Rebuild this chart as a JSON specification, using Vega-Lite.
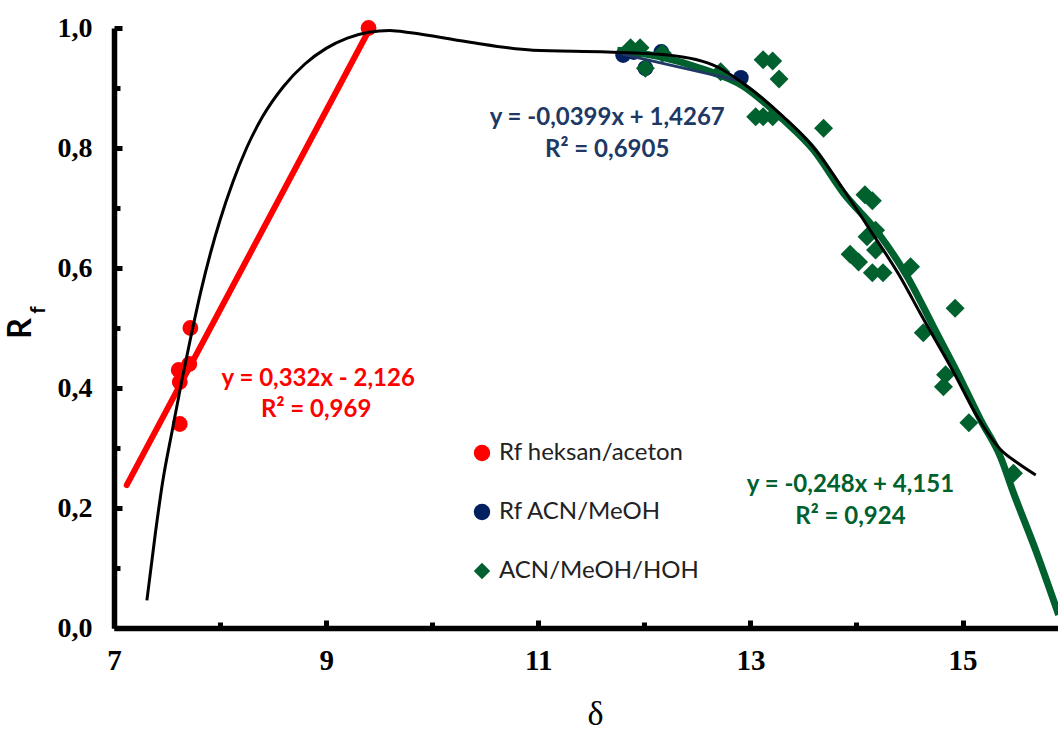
{
  "$schema": "https://vega.github.io/schema/vega-lite/v6.json",
  "width": 944,
  "height": 600,
  "autosize": {"type": "none"},
  "padding": {"left": 114, "top": 28, "right": 0, "bottom": 103},
  "background": "white",
  "config": {"view": {"stroke": null}, "font": "Lato"},
  "datasets": {
    "points": [
      {"series": "Rf heksan/aceton", "delta": 7.72, "Rf": 0.50},
      {"series": "Rf heksan/aceton", "delta": 7.61, "Rf": 0.43},
      {"series": "Rf heksan/aceton", "delta": 7.71, "Rf": 0.44},
      {"series": "Rf heksan/aceton", "delta": 7.62, "Rf": 0.41},
      {"series": "Rf heksan/aceton", "delta": 7.62, "Rf": 0.34},
      {"series": "Rf heksan/aceton", "delta": 9.40, "Rf": 1.00},
      {"series": "Rf ACN/MeOH", "delta": 11.80, "Rf": 0.955},
      {"series": "Rf ACN/MeOH", "delta": 11.90, "Rf": 0.96},
      {"series": "Rf ACN/MeOH", "delta": 12.01, "Rf": 0.933},
      {"series": "Rf ACN/MeOH", "delta": 12.16, "Rf": 0.96},
      {"series": "Rf ACN/MeOH", "delta": 12.91, "Rf": 0.917},
      {"series": "ACN/MeOH/HOH", "delta": 11.87, "Rf": 0.967},
      {"series": "ACN/MeOH/HOH", "delta": 11.96, "Rf": 0.967},
      {"series": "ACN/MeOH/HOH", "delta": 12.17, "Rf": 0.958},
      {"series": "ACN/MeOH/HOH", "delta": 12.01, "Rf": 0.933},
      {"series": "ACN/MeOH/HOH", "delta": 12.72, "Rf": 0.927},
      {"series": "ACN/MeOH/HOH", "delta": 13.12, "Rf": 0.947},
      {"series": "ACN/MeOH/HOH", "delta": 13.21, "Rf": 0.945},
      {"series": "ACN/MeOH/HOH", "delta": 13.27, "Rf": 0.915},
      {"series": "ACN/MeOH/HOH", "delta": 13.05, "Rf": 0.852},
      {"series": "ACN/MeOH/HOH", "delta": 13.12, "Rf": 0.852},
      {"series": "ACN/MeOH/HOH", "delta": 13.21, "Rf": 0.852},
      {"series": "ACN/MeOH/HOH", "delta": 13.69, "Rf": 0.833},
      {"series": "ACN/MeOH/HOH", "delta": 14.08, "Rf": 0.722},
      {"series": "ACN/MeOH/HOH", "delta": 14.15, "Rf": 0.712},
      {"series": "ACN/MeOH/HOH", "delta": 14.18, "Rf": 0.663},
      {"series": "ACN/MeOH/HOH", "delta": 14.10, "Rf": 0.652},
      {"series": "ACN/MeOH/HOH", "delta": 14.18, "Rf": 0.63},
      {"series": "ACN/MeOH/HOH", "delta": 13.94, "Rf": 0.623},
      {"series": "ACN/MeOH/HOH", "delta": 14.02, "Rf": 0.61},
      {"series": "ACN/MeOH/HOH", "delta": 14.15, "Rf": 0.592},
      {"series": "ACN/MeOH/HOH", "delta": 14.25, "Rf": 0.592},
      {"series": "ACN/MeOH/HOH", "delta": 14.51, "Rf": 0.602},
      {"series": "ACN/MeOH/HOH", "delta": 14.93, "Rf": 0.533},
      {"series": "ACN/MeOH/HOH", "delta": 14.63, "Rf": 0.492},
      {"series": "ACN/MeOH/HOH", "delta": 14.84, "Rf": 0.422},
      {"series": "ACN/MeOH/HOH", "delta": 14.82, "Rf": 0.402},
      {"series": "ACN/MeOH/HOH", "delta": 15.06, "Rf": 0.342},
      {"series": "ACN/MeOH/HOH", "delta": 15.48, "Rf": 0.258}
    ],
    "lines": [
      {"line": "red", "delta": 7.12, "Rf": 0.238},
      {"line": "red", "delta": 9.40, "Rf": 0.995},
      {"line": "blue", "delta": 11.80, "Rf": 0.956},
      {"line": "blue", "delta": 12.92, "Rf": 0.911},
      {"line": "green", "delta": 11.745, "Rf": 0.963},
      {"line": "green", "delta": 12.151, "Rf": 0.952},
      {"line": "green", "delta": 12.528, "Rf": 0.933},
      {"line": "green", "delta": 12.934, "Rf": 0.903},
      {"line": "green", "delta": 13.311, "Rf": 0.847},
      {"line": "green", "delta": 13.594, "Rf": 0.797},
      {"line": "green", "delta": 13.877, "Rf": 0.725},
      {"line": "green", "delta": 14.198, "Rf": 0.66},
      {"line": "green", "delta": 14.481, "Rf": 0.585},
      {"line": "green", "delta": 14.726, "Rf": 0.502},
      {"line": "green", "delta": 14.953, "Rf": 0.425},
      {"line": "green", "delta": 15.17, "Rf": 0.347},
      {"line": "green", "delta": 15.358, "Rf": 0.285},
      {"line": "green", "delta": 15.481, "Rf": 0.225},
      {"line": "green", "delta": 15.689, "Rf": 0.13},
      {"line": "green", "delta": 15.906, "Rf": 0.022},
      {"line": "black", "delta": 7.31, "Rf": 0.046},
      {"line": "black", "delta": 7.39, "Rf": 0.158},
      {"line": "black", "delta": 7.46, "Rf": 0.245},
      {"line": "black", "delta": 7.55, "Rf": 0.33},
      {"line": "black", "delta": 7.64, "Rf": 0.413},
      {"line": "black", "delta": 7.73, "Rf": 0.49},
      {"line": "black", "delta": 7.82, "Rf": 0.562},
      {"line": "black", "delta": 7.91, "Rf": 0.625},
      {"line": "black", "delta": 8.0, "Rf": 0.68},
      {"line": "black", "delta": 8.12, "Rf": 0.743},
      {"line": "black", "delta": 8.25, "Rf": 0.8},
      {"line": "black", "delta": 8.4, "Rf": 0.852},
      {"line": "black", "delta": 8.6, "Rf": 0.903},
      {"line": "black", "delta": 8.8, "Rf": 0.94},
      {"line": "black", "delta": 9.0, "Rf": 0.966},
      {"line": "black", "delta": 9.2, "Rf": 0.983},
      {"line": "black", "delta": 9.4, "Rf": 0.993},
      {"line": "black", "delta": 9.6, "Rf": 0.996},
      {"line": "black", "delta": 9.8, "Rf": 0.992},
      {"line": "black", "delta": 10.33, "Rf": 0.977},
      {"line": "black", "delta": 10.95, "Rf": 0.963},
      {"line": "black", "delta": 11.65, "Rf": 0.96},
      {"line": "black", "delta": 12.22, "Rf": 0.955},
      {"line": "black", "delta": 12.69, "Rf": 0.935},
      {"line": "black", "delta": 12.93, "Rf": 0.908},
      {"line": "black", "delta": 13.31, "Rf": 0.852},
      {"line": "black", "delta": 13.59, "Rf": 0.802},
      {"line": "black", "delta": 13.88, "Rf": 0.73},
      {"line": "black", "delta": 14.13, "Rf": 0.663},
      {"line": "black", "delta": 14.42, "Rf": 0.583},
      {"line": "black", "delta": 14.6, "Rf": 0.525},
      {"line": "black", "delta": 14.92, "Rf": 0.425},
      {"line": "black", "delta": 15.14, "Rf": 0.352},
      {"line": "black", "delta": 15.36, "Rf": 0.297},
      {"line": "black", "delta": 15.52, "Rf": 0.275},
      {"line": "black", "delta": 15.69, "Rf": 0.255}
    ],
    "notes": [
      {"group": "red", "delta": 8.925, "Rf": 0.415, "text": "y = 0,332x - 2,126"},
      {"group": "red", "delta": 8.906, "Rf": 0.363, "text": "R² = 0,969"},
      {"group": "blue", "delta": 11.65, "Rf": 0.85, "text": "y = -0,0399x + 1,4267"},
      {"group": "blue", "delta": 11.65, "Rf": 0.797, "text": "R² = 0,6905"},
      {"group": "green", "delta": 13.943, "Rf": 0.238, "text": "y = -0,248x + 4,151"},
      {"group": "green", "delta": 13.943, "Rf": 0.185, "text": "R² = 0,924"},
      {"group": "sub", "delta": 6.29, "Rf": 0.53, "text": "f"}
    ]
  },
  "layer": [
    {
      "data": {"name": "points"},
      "mark": {"type": "point", "filled": true, "opacity": 1},
      "encoding": {
        "x": {
          "field": "delta", "type": "quantitative",
          "scale": {"domain": [7, 15.9], "nice": false, "zero": false},
          "axis": {
            "values": [7, 8, 9, 10, 11, 12, 13, 14, 15],
            "labelExpr": "datum.value % 2 == 1 ? format(datum.value, 'd') : ''",
            "labelFont": "Liberation Serif", "labelFontWeight": "bold", "labelFontSize": 29, "labelColor": "black",
            "labelPadding": 26, "labelFlush": false,
            "tickSize": {"condition": {"test": "datum.value % 2 == 1", "value": -8}, "value": -6},
            "tickWidth": 5, "tickColor": "black",
            "domainColor": "black", "domainWidth": 5.5, "grid": false,
            "title": "δ", "titleFont": "Liberation Serif", "titleFontWeight": "normal", "titleFontSize": 34,
            "titlePadding": 22, "titleX": 481, "titleColor": "black"
          }
        },
        "y": {
          "field": "Rf", "type": "quantitative",
          "scale": {"domain": [0, 1], "nice": false},
          "axis": {
            "values": [0, 0.1, 0.2, 0.3, 0.4, 0.5, 0.6, 0.7, 0.8, 0.9, 1.0],
            "labelExpr": "round(datum.value*10) % 2 == 0 ? replace(format(datum.value, '.1f'), '.', ',') : ''",
            "labelFont": "Liberation Serif", "labelFontWeight": "bold", "labelFontSize": 28, "labelColor": "black",
            "labelPadding": 30, "labelFlush": false,
            "tickSize": {"condition": {"test": "round(datum.value*10) % 2 == 0", "value": -8}, "value": -6},
            "tickWidth": 5, "tickColor": "black",
            "domainColor": "black", "domainWidth": 5.5, "grid": false,
            "title": "R", "titleFont": "Lato", "titleFontWeight": "bold", "titleFontSize": 32,
            "titlePadding": 20, "titleColor": "black"
          }
        },
        "color": {
          "field": "series", "type": "nominal",
          "scale": {"domain": ["Rf heksan/aceton", "Rf ACN/MeOH", "ACN/MeOH/HOH"], "range": ["#FF0000", "#002060", "#00612E"]},
          "legend": {
            "title": null, "orient": "none", "legendX": 356, "legendY": 413,
            "labelFont": "Lato", "labelFontSize": 24, "labelColor": "#222222", "labelLimit": 0,
            "symbolSize": 270, "rowPadding": 35, "labelOffset": 5, "padding": 0,
            "symbolStrokeWidth": 0, "symbolOpacity": 1
          }
        },
        "shape": {
          "field": "series", "type": "nominal",
          "scale": {"domain": ["Rf heksan/aceton", "Rf ACN/MeOH", "ACN/MeOH/HOH"], "range": ["circle", "circle", "diamond"]}
        },
        "size": {"condition": {"test": "datum.series == 'ACN/MeOH/HOH'", "value": 360}, "value": 250}
      }
    },
    {
      "data": {"name": "lines"},
      "transform": [{"filter": "datum.line == 'green'"}],
      "mark": {"type": "line", "color": "#00612E", "strokeWidth": 7, "interpolate": "monotone", "clip": true},
      "encoding": {"x": {"field": "delta", "type": "quantitative"}, "y": {"field": "Rf", "type": "quantitative"}}
    },
    {
      "data": {"name": "lines"},
      "transform": [{"filter": "datum.line == 'red'"}],
      "mark": {"type": "line", "color": "#FF0000", "strokeWidth": 6, "strokeCap": "round"},
      "encoding": {"x": {"field": "delta", "type": "quantitative"}, "y": {"field": "Rf", "type": "quantitative"}}
    },
    {
      "data": {"name": "lines"},
      "transform": [{"filter": "datum.line == 'blue'"}],
      "mark": {"type": "line", "color": "#1F3864", "strokeWidth": 3},
      "encoding": {"x": {"field": "delta", "type": "quantitative"}, "y": {"field": "Rf", "type": "quantitative"}}
    },
    {
      "data": {"name": "lines"},
      "transform": [{"filter": "datum.line == 'black'"}],
      "mark": {"type": "line", "color": "black", "strokeWidth": 3, "interpolate": "monotone"},
      "encoding": {"x": {"field": "delta", "type": "quantitative"}, "y": {"field": "Rf", "type": "quantitative"}}
    },
    {
      "mark": {"type": "rule", "color": "black", "strokeWidth": 5.5},
      "encoding": {"y": {"datum": 1}}
    },
    {
      "data": {"name": "notes"},
      "transform": [{"filter": "datum.group == 'red'"}],
      "mark": {"type": "text", "color": "#FF0000", "font": "Lato", "fontWeight": "bold", "fontSize": 24, "align": "center", "baseline": "middle"},
      "encoding": {"x": {"field": "delta", "type": "quantitative"}, "y": {"field": "Rf", "type": "quantitative"}, "text": {"field": "text"}}
    },
    {
      "data": {"name": "notes"},
      "transform": [{"filter": "datum.group == 'blue'"}],
      "mark": {"type": "text", "color": "#203864", "font": "Lato", "fontWeight": "bold", "fontSize": 24, "align": "center", "baseline": "middle"},
      "encoding": {"x": {"field": "delta", "type": "quantitative"}, "y": {"field": "Rf", "type": "quantitative"}, "text": {"field": "text"}}
    },
    {
      "data": {"name": "notes"},
      "transform": [{"filter": "datum.group == 'green'"}],
      "mark": {"type": "text", "color": "#00612E", "font": "Lato", "fontWeight": "bold", "fontSize": 24, "align": "center", "baseline": "middle"},
      "encoding": {"x": {"field": "delta", "type": "quantitative"}, "y": {"field": "Rf", "type": "quantitative"}, "text": {"field": "text"}}
    },
    {
      "data": {"name": "notes"},
      "transform": [{"filter": "datum.group == 'sub'"}],
      "mark": {"type": "text", "color": "black", "font": "Lato", "fontWeight": "bold", "fontSize": 21, "angle": 270, "align": "center", "baseline": "middle"},
      "encoding": {"x": {"field": "delta", "type": "quantitative"}, "y": {"field": "Rf", "type": "quantitative"}, "text": {"field": "text"}}
    }
  ]
}
